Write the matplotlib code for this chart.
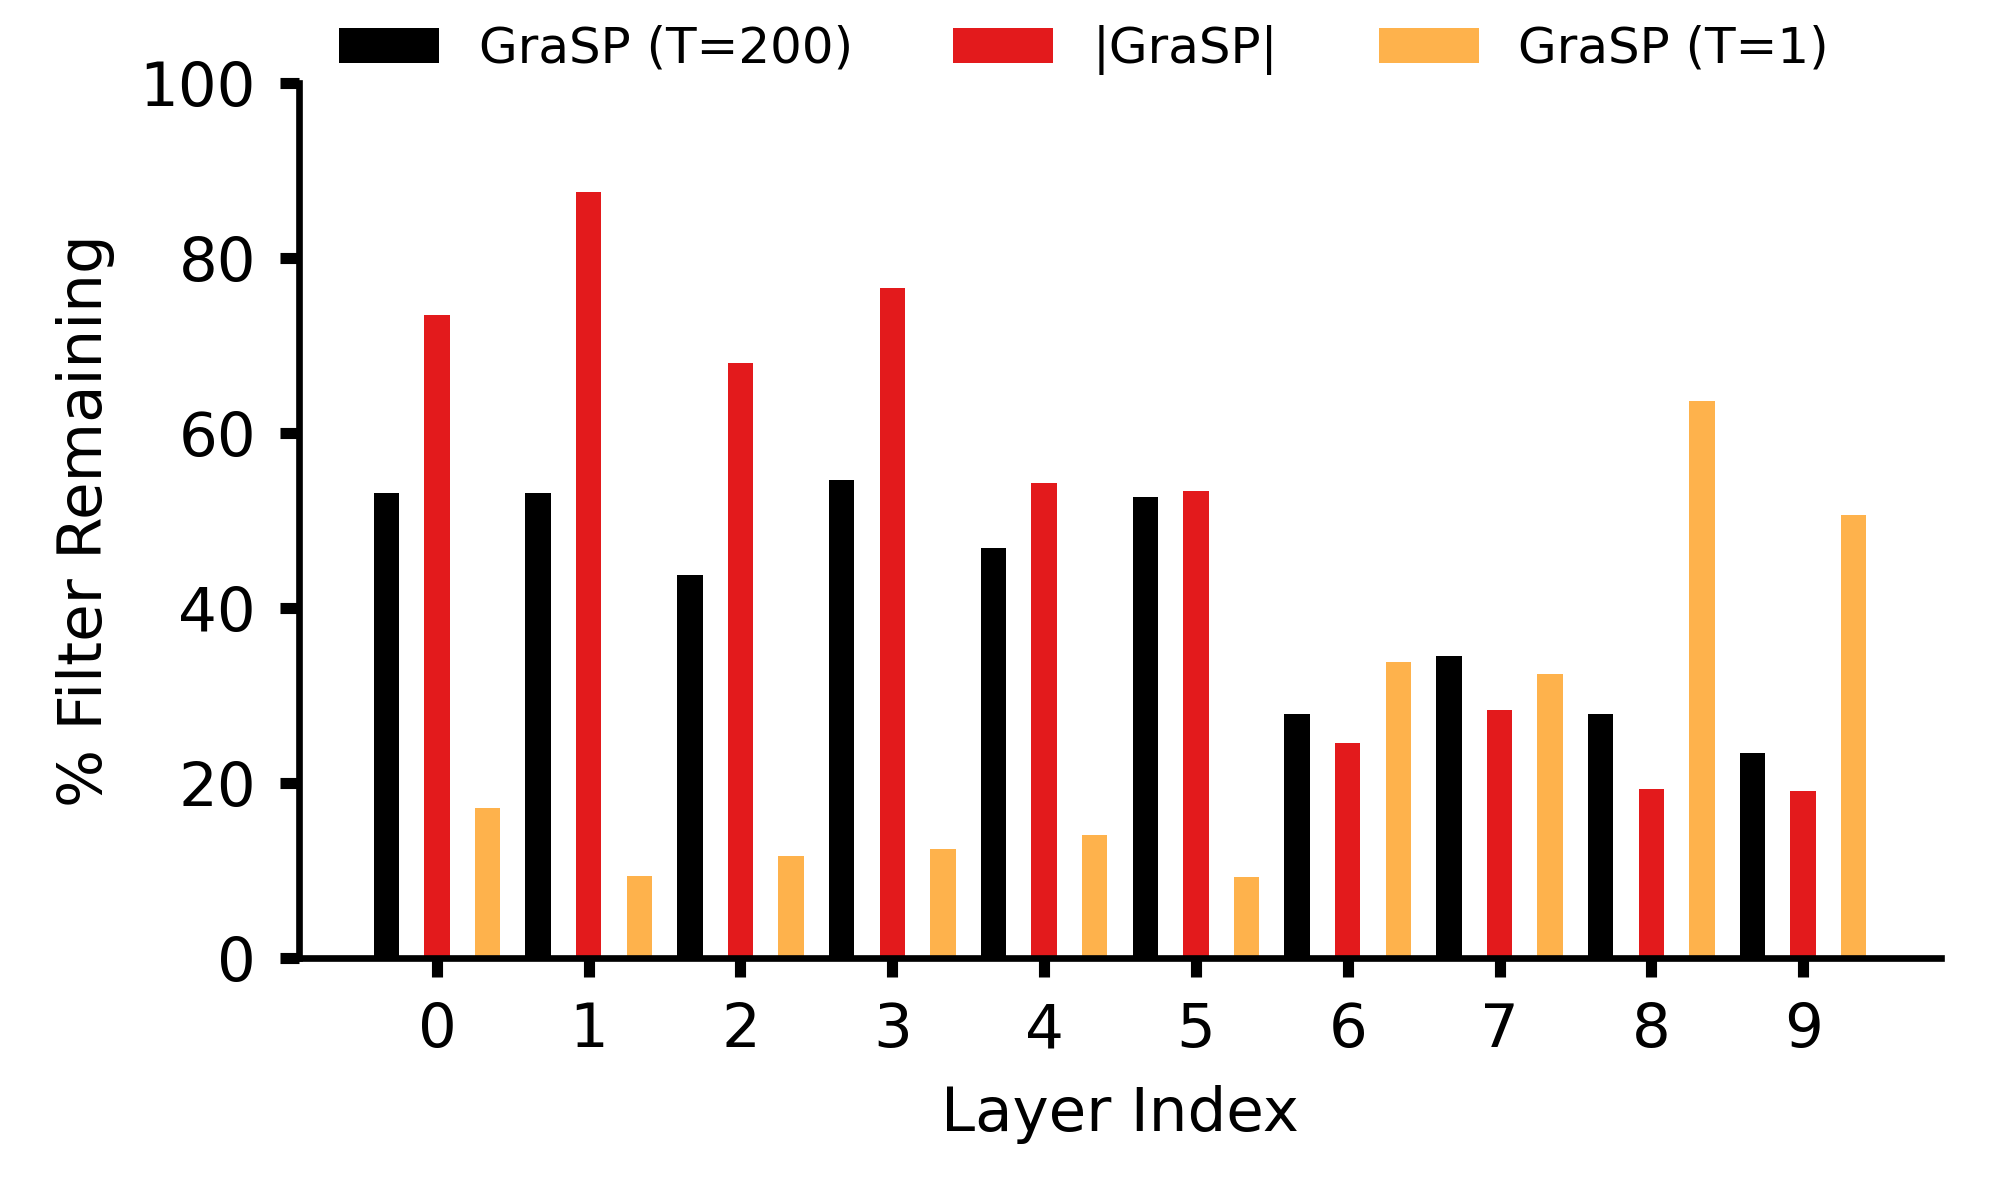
import matplotlib
matplotlib.use("Agg")
import matplotlib.pyplot as plt
import numpy as np

layers = [0, 1, 2, 3, 4, 5, 6, 7, 8, 9]
grasp_t200 = [53.2, 53.2, 43.8, 54.6, 46.9, 52.7, 27.9, 34.5, 27.9, 23.4]
grasp_abs = [73.5, 87.6, 68.0, 76.6, 54.3, 53.4, 24.6, 28.4, 19.3, 19.1]
grasp_t1 = [17.1, 9.4, 11.7, 12.5, 14.1, 9.3, 33.8, 32.5, 63.7, 50.6]
labels = ["GraSP (T=200)", "|GraSP|", "GraSP (T=1)"]
colors = ["#000000", "#e31a1c", "#feb24c"]

fig = plt.figure(figsize=(20, 12), dpi=100)
ax = fig.add_axes([0.1495, 0.2017, 0.821, 0.7289])

x = np.arange(len(layers))
w = 1 / 6
off = 1 / 3
b1 = ax.bar(x - off, grasp_t200, width=w, color=colors[0], label=labels[0])
b2 = ax.bar(x, grasp_abs, width=w, color=colors[1], label=labels[1])
b3 = ax.bar(x + off, grasp_t1, width=w, color=colors[2], label=labels[2])

ax.set_ylim(0, 100)
ax.set_yticks([0, 20, 40, 60, 80, 100])
ax.set_xticks(x)
ax.set_xticklabels([str(v) for v in layers])

for s in ["top", "right"]:
    ax.spines[s].set_visible(False)
for s in ["left", "bottom"]:
    ax.spines[s].set_linewidth(4.8)

ax.tick_params(axis="both", which="major", length=14, width=8, labelsize=44, pad=17)
ax.set_xlabel("Layer Index", fontsize=44, labelpad=18)
ax.set_ylabel("% Filter Remaining", fontsize=44, labelpad=18)

fig.legend(handles=[b1, b2, b3], labels=labels, loc="center",
           bbox_to_anchor=(0.542, 0.9585), ncol=3, frameon=False, fontsize=36)

fig.savefig("out.png", dpi=100)
